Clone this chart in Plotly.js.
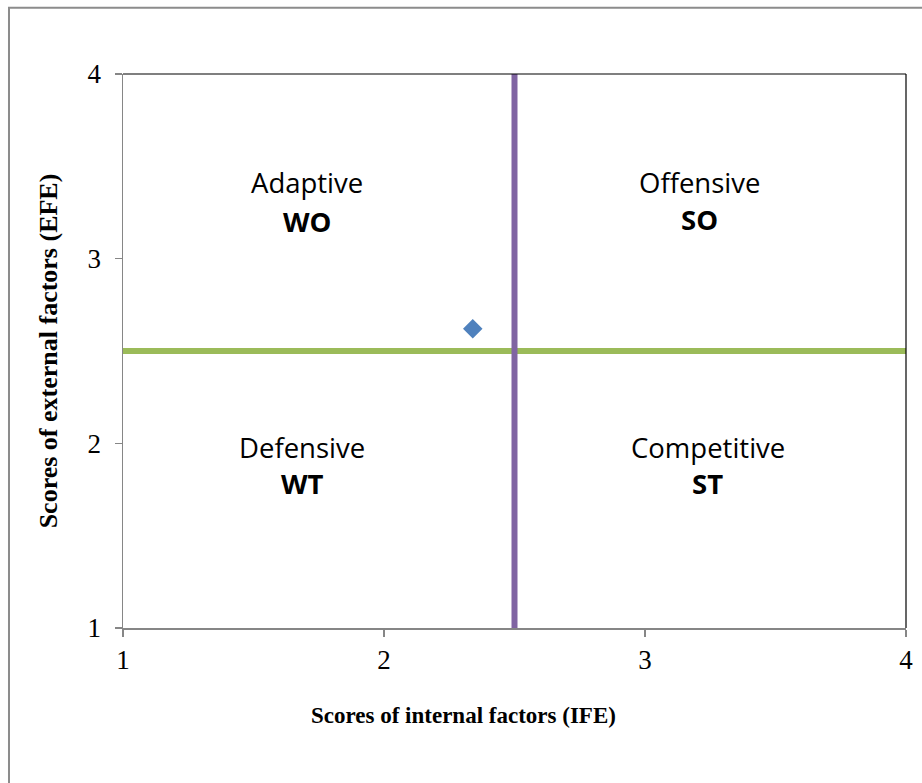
<!DOCTYPE html>
<html>
<head>
<meta charset="utf-8">
<script src="https://cdn.plot.ly/plotly-3.0.1.min.js"></script>
<style>
  html, body { margin: 0; padding: 0; background: #fff; }
  #chart { width: 922px; height: 783px; }
</style>
</head>
<body>
<div id="chart"></div>
<script>
// ---- data ----
const ifeScore = [2.34];
const efeScore = [2.62];
const midValue = 2.5;
const axisMin = 1;
const axisMax = 4;
const tickValues = [1, 2, 3, 4];
const tickLabels = ['1', '2', '3', '4'];
const quadrantNames = ['Adaptive', 'Offensive', 'Defensive', 'Competitive'];
const quadrantCodes = ['WO', 'SO', 'WT', 'ST'];
const xTitle = 'Scores of internal factors (IFE)';
const yTitle = 'Scores of external factors (EFE)';

// ---- layout helpers (positions kept separate from data) ----
const labelPos = [
  {x: 1.705, yName: 3.41, yCode: 3.20},
  {x: 3.21,  yName: 3.41, yCode: 3.21},
  {x: 1.686, yName: 1.98, yCode: 1.78},
  {x: 3.24,  yName: 1.98, yCode: 1.78}
];

const serif = 'Liberation Serif, Times New Roman, serif';
const sans = 'Open Sans, Liberation Sans, sans-serif';

const traces = [
  {
    x: [axisMin, axisMax], y: [midValue, midValue],
    mode: 'lines', line: {color: '#9BBB59', width: 6},
    hoverinfo: 'skip', showlegend: false, cliponaxis: false
  },
  {
    x: [midValue, midValue], y: [axisMin, axisMax],
    mode: 'lines', line: {color: '#8064A2', width: 6},
    hoverinfo: 'skip', showlegend: false, cliponaxis: false
  },
  {
    x: ifeScore, y: efeScore,
    mode: 'markers', type: 'scatter',
    marker: {symbol: 'diamond', size: 15, color: '#4F81BD'},
    showlegend: false
  }
];

const annotations = [];
quadrantNames.forEach((n, i) => {
  annotations.push({
    x: labelPos[i].x, y: labelPos[i].yName, xref: 'x', yref: 'y',
    text: n, showarrow: false,
    font: {family: sans, size: 27.5, color: '#000'}
  });
  annotations.push({
    x: labelPos[i].x, y: labelPos[i].yCode, xref: 'x', yref: 'y',
    text: '<b>' + quadrantCodes[i] + '</b>', showarrow: false,
    font: {family: sans, size: 27.5, color: '#000'}
  });
});
// x-axis title (placed as in the reference, slightly left of plot centre)
annotations.push({
  x: 0.435, y: -0.158, xref: 'paper', yref: 'paper',
  xanchor: 'center', yanchor: 'middle',
  text: '<b>' + xTitle + '</b>', showarrow: false,
  font: {family: serif, size: 23, color: '#000'}
});

const layout = {
  width: 922, height: 783,
  margin: {l: 123, r: 16, t: 74, b: 155},
  paper_bgcolor: '#fff', plot_bgcolor: '#fff',
  showlegend: false,
  xaxis: {
    range: [axisMin, axisMax], tickvals: tickValues, ticktext: tickLabels,
    ticks: 'outside', ticklen: 7, tickcolor: '#868686', tickwidth: 1.5,
    showline: true, linecolor: '#868686', linewidth: 1.5,
    showgrid: false, zeroline: false, fixedrange: true,
    tickfont: {family: serif, size: 27, color: '#000'}
  },
  yaxis: {
    range: [axisMin, axisMax], tickvals: tickValues, ticktext: tickLabels,
    ticks: 'outside', ticklen: 7, tickcolor: '#868686', tickwidth: 1.5,
    showline: true, linecolor: '#868686', linewidth: 1.5,
    showgrid: false, zeroline: false, fixedrange: true,
    ticklabelstandoff: 8,
    tickfont: {family: serif, size: 27, color: '#000'},
    title: {text: '<b>' + yTitle + '</b>', font: {family: serif, size: 26, color: '#000'}, standoff: 22}
  },
  shapes: [
    // top and right frame lines
    {type: 'line', xref: 'paper', yref: 'paper', x0: 0, x1: 1, y0: 1, y1: 1, line: {color: '#000', width: 1.2}},
    {type: 'line', xref: 'paper', yref: 'paper', x0: 1, x1: 1, y0: 0, y1: 1, line: {color: '#000', width: 1.2}},
    // outer chart border
    {type: 'rect', xref: 'paper', yref: 'paper', x0: -0.1456, x1: 1.1, y0: -0.4, y1: 1.1195,
     line: {color: '#8C8C8C', width: 2}, layer: 'below'}
  ],
  annotations: annotations
};

Plotly.newPlot('chart', traces, layout, {displayModeBar: false, staticPlot: true});
</script>
</body>
</html>
